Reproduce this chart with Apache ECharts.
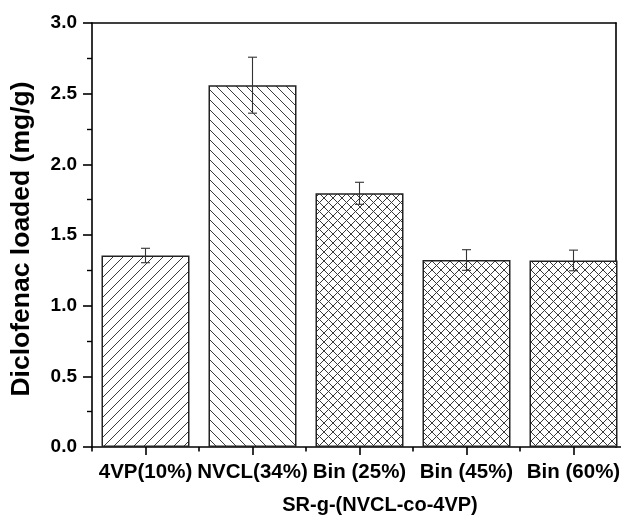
<!DOCTYPE html>
<html>
<head>
<meta charset="utf-8">
<script src="https://cdn.jsdelivr.net/npm/echarts@6/dist/echarts.min.js"></script>
<style>
html,body{margin:0;padding:0;background:#fff;}
#chart{width:621px;height:527px;}
</style>
</head>
<body>
<div id="chart"></div>
<script>
// ---- data ----
const categories = ['4VP(10%)', 'NVCL(34%)', 'Bin (25%)', 'Bin (45%)', 'Bin (60%)'];
const values = [1.355, 2.56, 1.795, 1.323, 1.32];
const errors = [0.051, 0.198, 0.078, 0.073, 0.073];
const hatchTypes = ['fwd', 'back', 'cross', 'cross', 'cross'];
const yTickMin = 0, yTickMax = 3, yTickStep = 0.5;
const xTitle = 'SR-g-(NVCL-co-4VP)';
const yTitle = 'Diclofenac loaded (mg/g)';

function makeHatch(type) {
  const s = type === 'cross' ? 9 : 10;
  const c = document.createElement('canvas');
  c.width = s; c.height = s;
  const g = c.getContext('2d');
  g.fillStyle = '#fff';
  g.fillRect(0, 0, s, s);
  g.strokeStyle = '#3a3a3a';
  g.lineWidth = 1;
  function fwd() {
    g.beginPath();
    for (let k = -1; k <= 1; k++) {
      g.moveTo(-1 + k * s, s + 1);
      g.lineTo(s + 1 + k * s, -1);
    }
    g.stroke();
  }
  function back() {
    g.beginPath();
    for (let k = -1; k <= 1; k++) {
      g.moveTo(-1 + k * s, -1);
      g.lineTo(s + 1 + k * s, s + 1);
    }
    g.stroke();
  }
  if (type === 'fwd') fwd();
  else if (type === 'back') back();
  else { fwd(); back(); }
  return c;
}

const barData = values.map((v, i) => ({
  value: v,
  itemStyle: { color: { image: makeHatch(hatchTypes[i]), repeat: 'repeat' } }
}));
const errData = values.map((v, i) => [i, v + errors[i], v - errors[i]]);

const chart = echarts.init(document.getElementById('chart'), null, { renderer: 'canvas' });
const font = "'Liberation Sans', Arial, sans-serif";

chart.setOption({
  animation: false,
  backgroundColor: '#fff',
  grid: [
    { left: 92, top: 23, right: 5, bottom: 80, outerBoundsMode: 'none', containLabel: false },
    { left: 92, top: 23, right: -6, bottom: 80, outerBoundsMode: 'none', containLabel: false }
  ],
  xAxis: [
    { gridIndex: 0, type: 'value', position: 'top', min: 0, max: 1,
      axisLine: { show: true, onZero: false, lineStyle: { color: '#000', width: 1.6 } },
      axisTick: { show: false }, axisLabel: { show: false }, splitLine: { show: false } },
    { gridIndex: 1, type: 'category', position: 'bottom', data: categories,
      axisLine: { show: true, onZero: false, lineStyle: { color: '#000', width: 1.6 } },
      axisTick: { show: true, inside: false, length: 4.5, lineStyle: { color: '#000', width: 1.6 } },
      axisLabel: { color: '#000', fontFamily: font, fontWeight: 'bold', fontSize: 20.5, margin: 15, interval: 0 },
      splitLine: { show: false },
      name: xTitle, nameLocation: 'middle', nameGap: 48,
      nameTextStyle: { color: '#000', fontFamily: font, fontWeight: 'bold', fontSize: 20, padding: [0, 0, 0, 41] } },
    { gridIndex: 1, type: 'category', position: 'bottom', data: categories,
      axisLine: { show: false, onZero: false },
      axisTick: { show: true, inside: false, alignWithLabel: true, length: 8, lineStyle: { color: '#000', width: 1.6 } },
      axisLabel: { show: false }, splitLine: { show: false } }
  ],
  yAxis: [
    { gridIndex: 0, type: 'value', position: 'right', min: yTickMin, max: yTickMax, interval: yTickStep,
      axisLine: { show: true, onZero: false, lineStyle: { color: '#000', width: 1.6 } },
      axisTick: { show: false }, axisLabel: { show: false }, splitLine: { show: false } },
    { gridIndex: 1, type: 'value', position: 'left', min: yTickMin, max: yTickMax, interval: yTickStep,
      axisLine: { show: true, onZero: false, lineStyle: { color: '#000', width: 1.6 } },
      axisTick: { show: true, inside: false, length: 9, lineStyle: { color: '#000', width: 1.6 } },
      minorTick: { show: true, splitNumber: 2, length: 5, lineStyle: { color: '#000', width: 1.4 } },
      axisLabel: { color: '#000', fontFamily: font, fontWeight: 'bold', fontSize: 19, margin: 15,
        formatter: v => v.toFixed(1) },
      splitLine: { show: false },
      name: yTitle, nameLocation: 'middle', nameGap: 57,
      nameTextStyle: { color: '#000', fontFamily: font, fontWeight: 'bold', fontSize: 26.5, padding: [0, 8, 0, 0] } }
  ],
  series: [
    { type: 'bar', xAxisIndex: 1, yAxisIndex: 1, data: barData, barWidth: 88,
      itemStyle: { borderColor: '#222', borderWidth: 1.5 }, silent: true },
    { type: 'custom', xAxisIndex: 1, yAxisIndex: 1, data: errData, z: 5, silent: true,
      encode: { x: 0, y: [1, 2] },
      renderItem: function (params, api) {
        const i = api.value(0);
        const hi = api.coord([i, api.value(1)]);
        const lo = api.coord([i, api.value(2)]);
        const w = 4.5;
        const st = { stroke: '#333', lineWidth: 1.1 };
        return { type: 'group', children: [
          { type: 'line', shape: { x1: hi[0], y1: hi[1], x2: lo[0], y2: lo[1] }, style: st },
          { type: 'line', shape: { x1: hi[0] - w, y1: hi[1], x2: hi[0] + w, y2: hi[1] }, style: st },
          { type: 'line', shape: { x1: lo[0] - w, y1: lo[1], x2: lo[0] + w, y2: lo[1] }, style: st }
        ]};
      } }
  ]
});
</script>
</body>
</html>
